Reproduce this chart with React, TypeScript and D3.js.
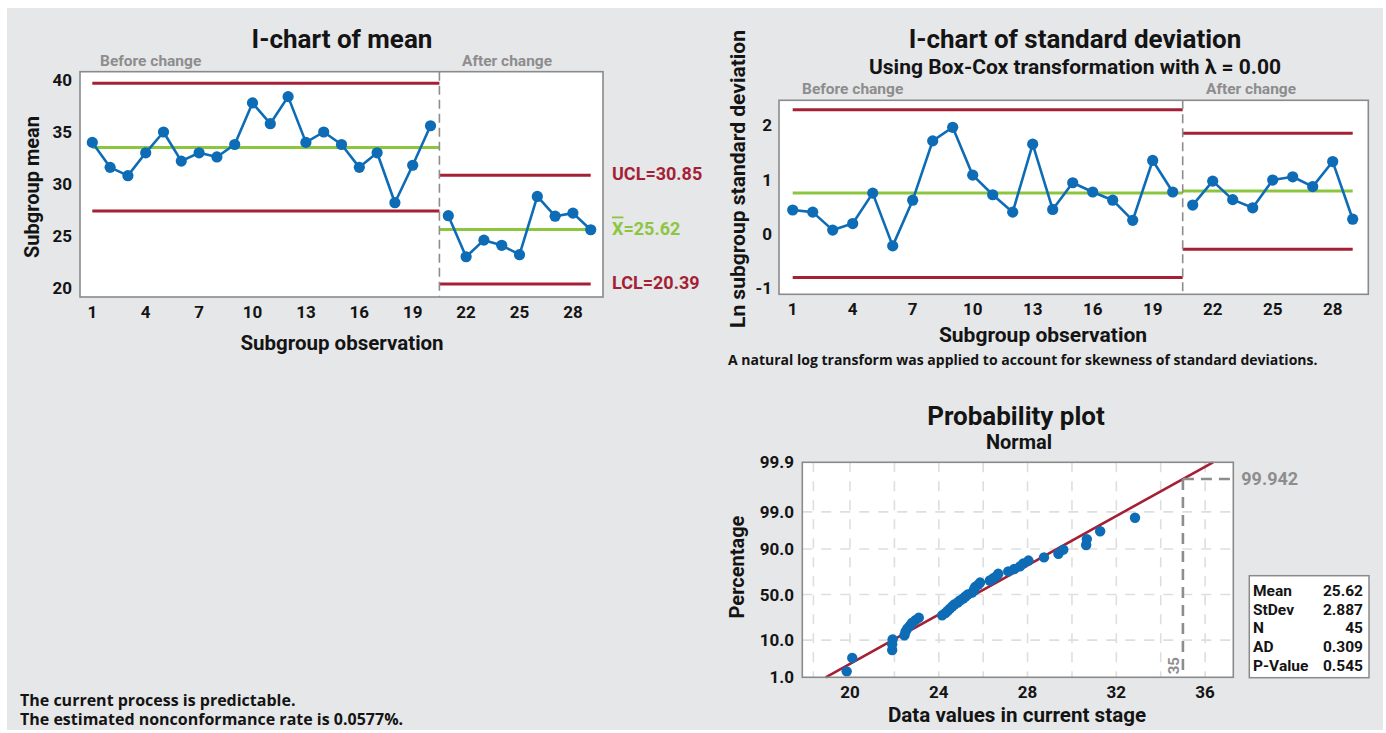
import React from "react";
import * as d3 from "d3";

// ---------- data ----------
const observations = [1, 2, 3, 4, 5, 6, 7, 8, 9, 10, 11, 12, 13, 14, 15, 16, 17, 18, 19, 20, 21, 22, 23, 24, 25, 26, 27, 28, 29];
const splitAfter = 20;
const obsTicks = [1, 4, 7, 10, 13, 16, 19, 22, 25, 28];

const meanBefore = [34.0, 31.6, 30.8, 33.0, 35.0, 32.2, 33.0, 32.6, 33.8, 37.8, 35.8, 38.4, 34.0, 35.0, 33.8, 31.6, 33.0, 28.2, 31.8, 35.6];
const meanAfter = [26.95, 23.0, 24.6, 24.1, 23.2, 28.8, 26.9, 27.2, 25.6];
const meanLimitsBefore = [39.7, 33.5, 27.4]; // UCL, CL, LCL
const meanLimitsAfter = [30.85, 25.62, 20.39];
const meanTicks = [20, 25, 30, 35, 40];

const sdBefore = [0.44, 0.40, 0.07, 0.19, 0.75, -0.22, 0.62, 1.71, 1.96, 1.08, 0.72, 0.40, 1.65, 0.45, 0.94, 0.77, 0.62, 0.25, 1.35, 0.77];
const sdAfter = [0.53, 0.97, 0.63, 0.48, 0.99, 1.05, 0.87, 1.33, 0.27];
const sdLimitsBefore = [2.28, 0.75, -0.80];
const sdLimitsAfter = [1.85, 0.79, -0.28];
const sdTicks = [-1, 0, 1, 2];

const probValues = [19.85, 20.1, 21.9, 21.9, 21.92, 22.45, 22.5, 22.58, 22.7, 22.8, 22.95, 23.1, 24.15, 24.3, 24.4, 24.5, 24.6, 24.7, 24.85, 24.95, 25.1, 25.2, 25.3, 25.5, 25.58, 25.6, 25.65, 25.78, 25.86, 26.3, 26.45, 26.6, 26.68, 27.13, 27.4, 27.66, 27.8, 28.04, 28.74, 29.39, 29.61, 30.64, 30.67, 31.27, 32.84];
const probXTicks = [20, 24, 28, 32, 36];
const probGridX = [18.35, 20, 22, 24, 26, 28, 30, 32, 34, 36];
const probYTickValues = [1, 10, 50, 90, 99, 99.99];
const probYTickLabels = ["1.0", "10.0", "50.0", "90.0", "99.0", "99.9"];
const probGridY = [10, 50, 90, 99];
const fitMean = 25.62;
const fitStDev = 2.887;
const refValue = 35;
const refPercent = 99.942;
const statNames = ["Mean", "StDev", "N", "AD", "P-Value"];
const statValues = ["25.62", "2.887", "45", "0.309", "0.545"];

// ---------- style ----------
const FONT = "Roboto, 'Open Sans', sans-serif";
const SMALL_FONT = "'Open Sans', Roboto, sans-serif";
const RED = "#a51f35";
const GREEN = "#8cc63f";
const BLUE = "#0d6cb5";
const GRAY = "#8d8d8d";
const FRAME = "#8a8a8a";
const INK = "#141414";

function probit(p: number): number {
  const a = [-3.969683028665376e1, 2.209460984245205e2, -2.759285104469687e2, 1.38357751867269e2, -3.066479806614716e1, 2.506628277459239];
  const b = [-5.447609879822406e1, 1.615858368580409e2, -1.556989798598866e2, 6.680131188771972e1, -1.328068155288572e1];
  const c = [-7.784894002430293e-3, -3.223964580411365e-1, -2.400758277161838, -2.549732539343734, 4.374664141464968, 2.938163982698783];
  const d = [7.784695709041462e-3, 3.224671290700398e-1, 2.445134137142996, 3.754408661907416];
  const pl = 0.02425;
  if (p < pl) {
    const q = Math.sqrt(-2 * Math.log(p));
    return (((((c[0] * q + c[1]) * q + c[2]) * q + c[3]) * q + c[4]) * q + c[5]) / ((((d[0] * q + d[1]) * q + d[2]) * q + d[3]) * q + 1);
  }
  if (p <= 1 - pl) {
    const q = p - 0.5;
    const r = q * q;
    return ((((((a[0] * r + a[1]) * r + a[2]) * r + a[3]) * r + a[4]) * r + a[5]) * q) / (((((b[0] * r + b[1]) * r + b[2]) * r + b[3]) * r + b[4]) * r + 1);
  }
  const q = Math.sqrt(-2 * Math.log(1 - p));
  return -(((((c[0] * q + c[1]) * q + c[2]) * q + c[3]) * q + c[4]) * q + c[5]) / ((((d[0] * q + d[1]) * q + d[2]) * q + d[3]) * q + 1);
}

type IProps = {
  box: [number, number, number, number]; // x0, y0, x1, y1
  xDomain: [number, number];
  yDomain: [number, number];
  yTicks: number[];
  before: number[];
  after: number[];
  limBefore: number[];
  limAfter: number[];
  tickFont: number;
  xTickBaseline: number;
  yTickX: number;
  labelsRight?: boolean;
  beforeLabel: [number, number];
  afterLabel: [number, number];
};

function IChart(p: IProps) {
  const [x0, y0, x1, y1] = p.box;
  const x = d3.scaleLinear().domain(p.xDomain).range([x0, x1]);
  const y = d3.scaleLinear().domain(p.yDomain).range([y1, y0]);
  const beforeObs = observations.slice(0, splitAfter);
  const afterObs = observations.slice(splitAfter);
  const line = d3.line<[number, number]>().x((d) => x(d[0])).y((d) => y(d[1]));
  const split = splitAfter + 0.5;
  const first = observations[0];
  const last = observations[observations.length - 1];
  const bPts = beforeObs.map((o, i) => [o, p.before[i]] as [number, number]);
  const aPts = afterObs.map((o, i) => [o, p.after[i]] as [number, number]);
  const limColors = [RED, GREEN, RED];
  return (
    <g>
      <rect x={x0} y={y0} width={x1 - x0} height={y1 - y0} fill="#fff" />
      {p.limBefore.map((v, i) => (
        <line key={"lb" + i} x1={x(first)} x2={x(split)} y1={y(v)} y2={y(v)} stroke={limColors[i]} strokeWidth={3} />
      ))}
      {p.limAfter.map((v, i) => (
        <line key={"la" + i} x1={x(split)} x2={x(last)} y1={y(v)} y2={y(v)} stroke={limColors[i]} strokeWidth={3} />
      ))}
      <line x1={x(split)} x2={x(split)} y1={y0} y2={y1} stroke={GRAY} strokeWidth={1.6} strokeDasharray="9,5" />
      <path d={line(bPts) || ""} fill="none" stroke={BLUE} strokeWidth={2.6} strokeLinejoin="round" />
      <path d={line(aPts) || ""} fill="none" stroke={BLUE} strokeWidth={2.6} strokeLinejoin="round" />
      {bPts.concat(aPts).map((d, i) => (
        <circle key={"pt" + i} cx={x(d[0])} cy={y(d[1])} r={5.6} fill={BLUE} />
      ))}
      <rect x={x0} y={y0} width={x1 - x0} height={y1 - y0} fill="none" stroke={FRAME} strokeWidth={1.6} />
      {p.yTicks.map((t) => (
        <text key={"yt" + t} x={p.yTickX} y={y(t)} dy="0.36em" textAnchor="end" fontSize={p.tickFont} fontWeight={700} fill={INK}>
          {t}
        </text>
      ))}
      {obsTicks.map((t) => (
        <text key={"xt" + t} x={x(t)} y={p.xTickBaseline} textAnchor="middle" fontSize={p.tickFont} fontWeight={700} fill={INK}>
          {t}
        </text>
      ))}
      <text x={p.beforeLabel[0]} y={p.beforeLabel[1]} fontSize={15.5} fontWeight={700} fill={GRAY}>Before change</text>
      <text x={p.afterLabel[0]} y={p.afterLabel[1]} fontSize={15.5} fontWeight={700} fill={GRAY}>After change</text>
      {p.labelsRight && (
        <g fontSize={18} fontWeight={700}>
          <text x={x1 + 9} y={y(p.limAfter[0]) + 5} fill={RED}>UCL={p.limAfter[0].toFixed(2)}</text>
          <text x={x1 + 9} y={y(p.limAfter[1]) + 5} fill={GREEN}>
            <tspan textDecoration="overline">X</tspan>={p.limAfter[1].toFixed(2)}
          </text>
          <text x={x1 + 9} y={y(p.limAfter[2]) + 5} fill={RED}>LCL={p.limAfter[2].toFixed(2)}</text>
        </g>
      )}
    </g>
  );
}

function ProbPlot() {
  const x0 = 802.3, x1 = 1233.3, y0 = 462.3, y1 = 677.3;
  const x = d3.scaleLinear().domain([17.85, 37.27]).range([x0, x1]);
  const zLo = probit(probYTickValues[0] / 100);
  const zHi = probit(probYTickValues[probYTickValues.length - 1] / 100);
  const z = d3.scaleLinear().domain([zLo, zHi]).range([y1, y0]);
  const yPct = (pct: number) => z(probit(pct / 100));
  const n = probValues.length;
  const sorted = probValues.slice().sort((a, b) => a - b);
  const pts = sorted.map((v, i) => [v, ((i + 1 - 0.3) / (n + 0.4)) * 100] as [number, number]);
  const fit = [zLo, zHi].map((zz) => [fitMean + fitStDev * zz, zz] as [number, number]);
  const fitLine = d3.line<[number, number]>().x((d) => x(d[0])).y((d) => z(d[1]));
  const refY = yPct(refPercent);
  return (
    <g>
      <rect x={x0} y={y0} width={x1 - x0} height={y1 - y0} fill="#fff" />
      {probGridX.map((g) => (
        <line key={"gx" + g} x1={x(g)} x2={x(g)} y1={y0} y2={y1} stroke="#dedede" strokeWidth={1.6} strokeDasharray="10,9" />
      ))}
      {probGridY.map((g) => (
        <line key={"gy" + g} x1={x0} x2={x1} y1={yPct(g)} y2={yPct(g)} stroke="#dedede" strokeWidth={1.6} strokeDasharray="10,9" />
      ))}
      <path d={fitLine(fit) || ""} stroke={RED} strokeWidth={2.6} fill="none" />
      <line x1={x(refValue)} x2={x(refValue)} y1={refY} y2={y1} stroke={GRAY} strokeWidth={2.6} strokeDasharray="11,7" />
      <line x1={x(refValue)} x2={x1} y1={refY} y2={refY} stroke={GRAY} strokeWidth={2.6} strokeDasharray="11,7" />
      {pts.map((d, i) => (
        <circle key={"pp" + i} cx={x(d[0])} cy={yPct(d[1])} r={5.2} fill={BLUE} />
      ))}
      <rect x={x0} y={y0} width={x1 - x0} height={y1 - y0} fill="none" stroke={FRAME} strokeWidth={1.6} />
      <text x={x1 + 8} y={refY + 6} fontSize={18} fontWeight={700} fill={GRAY}>{refPercent.toFixed(3)}</text>
      <text transform={`translate(${x(refValue) - 4},${y1 - 3}) rotate(-90)`} fontSize={15} fontWeight={700} fill={GRAY}>{refValue}</text>
      {probYTickValues.map((t, i) => (
        <text key={"pyt" + t} x={794} y={yPct(t)} dy="0.36em" textAnchor="end" fontSize={17} fontWeight={700} fill={INK}>
          {probYTickLabels[i]}
        </text>
      ))}
      {probXTicks.map((t) => (
        <text key={"pxt" + t} x={x(t)} y={698} textAnchor="middle" fontSize={17} fontWeight={700} fill={INK}>{t}</text>
      ))}
      <rect x={1249.3} y={575.7} width={119.7} height={102} fill="#fff" stroke={FRAME} strokeWidth={1.5} />
      {statNames.map((s, i) => (
        <g key={s} fontSize={15.5} fontWeight={700} fill={INK}>
          <text x={1253} y={596 + i * 18.7}>{s}</text>
          <text x={1363} y={596 + i * 18.7} textAnchor="end">{statValues[i]}</text>
        </g>
      ))}
    </g>
  );
}

export default function App() {
  return (
    <svg width={1386} height={733} style={{ position: "absolute", left: 0, top: 0, fontFamily: FONT }}>
      <rect x={0} y={0} width={1386} height={733} fill="#fff" />
      <rect x={7} y={8} width={1376} height={722} fill="#e6e7e9" />

      {/* I-chart of mean */}
      <text x={342} y={48} textAnchor="middle" fontSize={26} fontWeight={700} fill={INK}>I-chart of mean</text>
      <IChart
        box={[80, 71.7, 603, 297]}
        xDomain={[0.309, 29.69]}
        yDomain={[19.13, 40.8]}
        yTicks={meanTicks}
        before={meanBefore}
        after={meanAfter}
        limBefore={meanLimitsBefore}
        limAfter={meanLimitsAfter}
        tickFont={17}
        xTickBaseline={318}
        yTickX={72}
        labelsRight={true}
        beforeLabel={[100, 66]}
        afterLabel={[462, 66]}
      />
      <text x={342} y={350} textAnchor="middle" fontSize={20.5} fontWeight={700} fill={INK}>Subgroup observation</text>
      <text transform="translate(39,187) rotate(-90)" textAnchor="middle" fontSize={20} fontWeight={700} fill={INK}>Subgroup mean</text>

      {/* I-chart of standard deviation */}
      <text x={1075} y={48} textAnchor="middle" fontSize={26} fontWeight={700} fill={INK}>I-chart of standard deviation</text>
      <text x={1075} y={74} textAnchor="middle" fontSize={21} fontWeight={700} fill={INK}>Using Box-Cox transformation with λ = 0.00</text>
      <IChart
        box={[779, 100.3, 1368.3, 294.3]}
        xDomain={[0.315, 29.78]}
        yDomain={[-1.11, 2.456]}
        yTicks={sdTicks}
        before={sdBefore}
        after={sdAfter}
        limBefore={sdLimitsBefore}
        limAfter={sdLimitsAfter}
        tickFont={17}
        xTickBaseline={315}
        yTickX={772}
        beforeLabel={[802, 94]}
        afterLabel={[1206, 94]}
      />
      <text x={1043} y={342} textAnchor="middle" fontSize={21} fontWeight={700} fill={INK}>Subgroup observation</text>
      <text transform="translate(745,179) rotate(-90)" textAnchor="middle" fontSize={21} fontWeight={700} fill={INK}>Ln subgroup standard deviation</text>
      <text x={728} y={365} fontFamily={SMALL_FONT} fontSize={14} fontWeight={700} fill={INK}>A natural log transform was applied to account for skewness of standard deviations.</text>

      {/* Probability plot */}
      <text x={1016} y={425} textAnchor="middle" fontSize={26} fontWeight={700} fill={INK}>Probability plot</text>
      <text x={1019} y={449} textAnchor="middle" fontSize={20} fontWeight={700} fill={INK}>Normal</text>
      <ProbPlot />
      <text x={1017} y={722} textAnchor="middle" fontSize={20.6} fontWeight={700} fill={INK}>Data values in current stage</text>
      <text transform="translate(744,567) rotate(-90)" textAnchor="middle" fontSize={20} fontWeight={700} fill={INK}>Percentage</text>

      {/* Notes */}
      <text x={20} y={706} fontFamily={SMALL_FONT} fontSize={16} fontWeight={700} fill={INK}>The current process is predictable.</text>
      <text x={20} y={724.5} fontFamily={SMALL_FONT} fontSize={16} fontWeight={700} fill={INK}>The estimated nonconformance rate is 0.0577%.</text>
    </svg>
  );
}
